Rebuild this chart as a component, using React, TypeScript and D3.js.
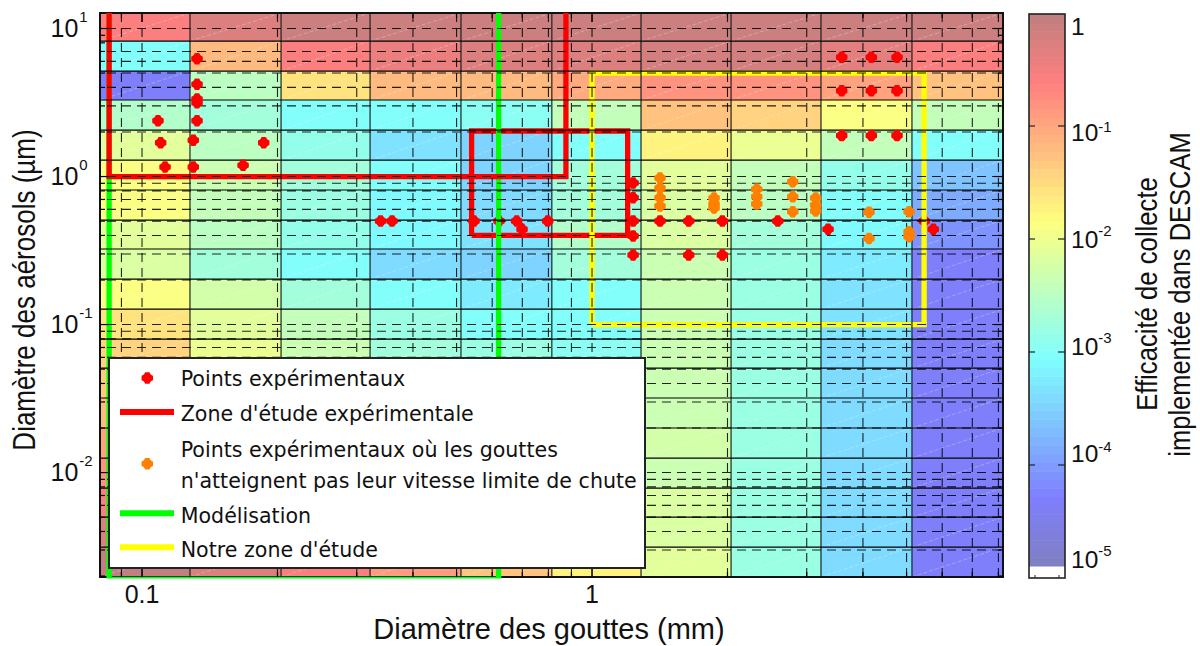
import React from "react";
import * as d3 from "d3";

const diamEdges = [0.0807, 0.1278, 0.2037, 0.3212, 0.5114, 0.814, 1.285, 2.037, 3.227, 5.14, 8.19];
const aerEdges = [12.73, 8.23, 5.16, 3.29, 2.06, 1.29, 0.811, 0.508, 0.324, 0.203, 0.127, 0.0798, 0.0508, 0.0319, 0.02, 0.01253, 0.00786, 0.005, 0.00314, 0.00197];

// log10(efficiency), rows top to bottom, columns left to right
const heatRows = [
  [-0.55, -0.25, -0.15, -0.1, -0.1, -0.1, -0.1, -0.1, -0.1, -0.1],
  [-3.06, -1.2, -0.6, -0.4, -0.3, -0.25, -0.2, -0.2, -0.35, -0.6],
  [-4.3, -2.5, -1.55, -1.2, -1.2, -1.05, -0.8, -0.8, -1.0, -1.25],
  [-2.55, -2.75, -3.0, -3.0, -2.95, -2.4, -1.25, -1.45, -1.9, -2.4],
  [-2.1, -2.5, -2.9, -3.3, -3.5, -3.05, -1.7, -2.0, -2.45, -3.05],
  [-1.85, -2.35, -2.75, -3.05, -3.5, -2.7, -2.1, -2.45, -2.85, -3.65],
  [-1.85, -2.4, -2.8, -3.1, -3.4, -2.7, -2.15, -2.5, -3.05, -3.9],
  [-2.1, -2.5, -2.85, -3.1, -3.3, -2.6, -2.2, -2.7, -3.1, -4.1],
  [-2.2, -2.7, -3.05, -3.4, -3.45, -2.75, -2.3, -2.8, -3.25, -4.3],
  [-1.85, -2.25, -2.7, -3.05, -3.25, -3.05, -2.35, -2.8, -3.3, -4.35],
  [-1.55, -2.1, -2.45, -2.8, -3.05, -3.05, -2.35, -2.8, -3.3, -4.3],
  [-1.45, -2.0, -2.35, -2.75, -2.8, -2.95, -2.35, -2.8, -3.4, -4.3],
  [-1.35, -1.9, -2.2, -2.5, -2.7, -2.8, -2.35, -2.8, -3.4, -4.3],
  [-1.2, -1.7, -2.0, -2.3, -2.5, -2.6, -2.3, -2.8, -3.4, -4.3],
  [-1.0, -1.5, -1.8, -2.1, -2.3, -2.4, -2.25, -2.8, -3.4, -4.3],
  [-0.8, -1.2, -1.5, -1.8, -2.1, -2.2, -2.35, -2.8, -3.4, -4.3],
  [-0.6, -0.9, -1.2, -1.5, -1.8, -2.0, -2.2, -2.8, -3.4, -4.3],
  [-0.3, -0.6, -0.9, -1.2, -1.5, -1.8, -2.15, -2.8, -3.4, -4.3],
  [-0.05, -0.3, -0.6, -0.9, -1.25, -1.7, -2.1, -2.8, -3.4, -4.3],
];

const gridDiam = [0.09, 0.1, 0.2, 0.3, 0.4, 0.5, 0.6, 0.7, 0.8, 0.9, 1, 2, 3, 4, 5, 6, 7, 8];
const gridAer = [10, 7, 6, 5, 4, 3, 2, 1, 0.9, 0.8, 0.7, 0.6, 0.5, 0.4, 0.3, 0.2, 0.1, 0.09, 0.08, 0.07, 0.06, 0.05, 0.04, 0.03, 0.02, 0.01, 0.009, 0.008, 0.007, 0.006, 0.005, 0.004, 0.003];
const tickAerMinor = [9, 8, 7, 6, 5, 4, 3, 2, 0.9, 0.8, 0.7, 0.6, 0.5, 0.4, 0.3, 0.2, 0.09, 0.08, 0.07, 0.06, 0.05, 0.04, 0.03, 0.02, 0.009, 0.008, 0.007, 0.006, 0.005, 0.004, 0.003, 0.002];
const tickAerMajor = [10, 1, 0.1, 0.01];
const tickDiamMajor = [0.1, 1];
const tickDiamLabels = ["0.1", "1"];
const yExponents = ["1", "0", "-1", "-2"];

const redDiam = [0.1325, 0.1325, 0.1325, 0.1325, 0.1325, 0.1085, 0.11, 0.13, 0.1864, 0.1125, 0.13, 0.1677, 0.339, 0.3594, 0.5468, 0.6214, 0.68, 0.699, 0.797, 1.234, 1.234, 1.234, 1.234, 1.234, 1.416, 1.64, 1.64, 1.948, 1.948, 2.587, 3.346, 5.476, 5.734, 3.588, 4.175, 4.762, 3.588, 4.175, 4.762, 3.588, 4.175, 4.762];
const redAer = [6.25, 4.2, 3.34, 3.15, 2.38, 2.38, 1.69, 1.76, 1.69, 1.16, 1.16, 1.19, 0.5, 0.5, 0.5, 0.5, 0.5, 0.44, 0.5, 0.72, 0.904, 0.5, 0.396, 0.295, 0.5, 0.5, 0.295, 0.5, 0.295, 0.5, 0.44, 0.5, 0.44, 6.39, 6.39, 6.39, 3.8, 3.8, 3.8, 1.89, 1.89, 1.89];
// points that the reference shows beneath the green and yellow zone outlines
const redBelowZones = [0.6214, 5.476];
const orangeDiam = [1.416, 1.416, 1.416, 1.416, 1.867, 1.867, 1.867, 2.323, 2.323, 2.323, 2.793, 2.793, 2.793, 3.141, 3.141, 3.141, 4.126, 4.126, 5.065, 5.065, 5.065];
const orangeAer = [0.977, 0.836, 0.72, 0.632, 0.716, 0.652, 0.613, 0.82, 0.73, 0.652, 0.922, 0.73, 0.578, 0.716, 0.642, 0.585, 0.573, 0.382, 0.578, 0.424, 0.392];

const zoneExpDiam = [0.0845, 0.0845, 0.875, 0.875];
const zoneExpAer = [12.73, 1, 1, 12.73];
const zoneExp2Diam = [0.54, 0.54, 1.2, 1.2, 0.54];
const zoneExp2Aer = [0.4, 2.03, 2.03, 0.4, 0.4];
const modelDiam = [0.0845, 0.0845, 0.62, 0.62];
const modelAer = [12.73, 0.0019, 0.0019, 12.73];
const ourDiam = [1, 1, 5.47, 5.47, 1];
const ourAer = [0.1, 5, 5, 0.1, 0.1];

const cbarLog = [0, -1, -2, -3, -4, -5];
const cbarLabels = ["1", "10", "10", "10", "10", "10"];
const cbarExp = ["", "-1", "-2", "-3", "-4", "-5"];

const legendLabels = ["Points expérimentaux", "Zone d'étude expérimentale", "Points expérimentaux où les gouttes", "n'atteignent pas leur vitesse limite de chute", "Modélisation", "Notre zone d'étude"];

const x = d3.scaleLog().domain([0.08065, 8.19]).range([100, 1003]);
const y = d3.scaleLog().domain([0.00197, 12.73]).range([577, 13]);
const jet = d3.scaleLinear<string>().domain([0, 0.125, 0.375, 0.625, 0.875, 1])
  .range(["#7f7fbf", "#7f7fff", "#7fffff", "#ffff7f", "#ff7f7f", "#bf7f7f"]).clamp(true);
const cb = d3.scaleLinear().domain([-5, 0]).range([578, 13]);
const CB_BOTTOM = 566;
const quant = (t: number) => jet((Math.min(63, Math.max(0, Math.floor(t * 64))) + 0.5) / 64);
const logColor = (v: number) => quant((CB_BOTTOM - cb(v)) / (CB_BOTTOM - 14));
const pathOf = (xs: number[], ys: number[]) =>
  d3.line<number>().x(d => x(xs[d])).y(d => y(ys[d]))(xs.map((_, i) => i)) as string;
const marker = d3.symbol().type(d3.symbolCross).size(45)() as string;

const SANS = "'Liberation Sans', Arial, sans-serif";
const DEJA = "'DejaVu Sans', Verdana, sans-serif";

function Mark({ cx, cy, color }: { cx: number; cy: number; color: string }) {
  return (
    <g transform={`translate(${cx},${cy})`} fill={color}>
      <circle r={5} />
      <path d={marker} stroke={color} strokeWidth={2.5} strokeLinejoin="round" />
    </g>
  );
}

export default function App() {
  const cbarSteps = d3.range(64);
  const stepH = (CB_BOTTOM - 14) / 64;
  const legendBase = [385.7, 420.7, 456.7, 487.5, 522.7, 557];
  const cbarBase = [35, 141, 248, 355, 462, 568];
  const cbarDy = [0, -9.5, -12, -12, -10, -12];
  return (
    <svg width={1200} height={646} style={{ position: "absolute", left: 0, top: 0, background: "#fff" }}>
      <defs>
        <clipPath id="axclip"><rect x={100} y={13} width={903} height={565.5} /></clipPath>
      </defs>
      {heatRows.map((row, r) => row.map((v, c) => {
        const x0 = x(diamEdges[c]), x1 = x(diamEdges[c + 1]), y0 = y(aerEdges[r]), y1 = y(aerEdges[r + 1]);
        return (
          <g key={`${r}-${c}`}>
            <rect x={x0} y={y0} width={x1 - x0} height={y1 - y0} fill={logColor(v)} />
            <line x1={x0} y1={y1} x2={x1} y2={y0} stroke="#fff" strokeOpacity={0.28} strokeWidth={1} strokeDasharray="4 2" />
          </g>
        );
      }))}
      <rect x={100} y={13} width={903} height={564} fill="none" stroke="#111" strokeWidth={2} />
      {redDiam.map((d, i) => redBelowZones.includes(d) ? <Mark key={i} cx={x(d)} cy={y(redAer[i])} color="#ff0000" /> : null)}
      <g clipPath="url(#axclip)" fill="none" strokeWidth={5.3}>
        <path d={pathOf(zoneExp2Diam, zoneExp2Aer)} stroke="#ff0000" />
        <path d={pathOf(modelDiam, modelAer)} stroke="#00ff00" />
        <path d={pathOf(zoneExpDiam, zoneExpAer)} stroke="#ff0000" />
        <path d={pathOf(ourDiam, ourAer)} stroke="#ffff00" />
      </g>
      {diamEdges.slice(1, 10).map((d, i) => <line key={i} x1={x(d)} x2={x(d)} y1={13} y2={577} stroke="#101818" strokeOpacity={0.8} strokeWidth={1.4} />)}
      {aerEdges.slice(1, 19).map((a, i) => <line key={i} x1={100} x2={1003} y1={y(a)} y2={y(a)} stroke="#000" strokeWidth={1.2} />)}
      {gridDiam.map((d, i) => <line key={i} x1={x(d)} x2={x(d)} y1={13} y2={577} stroke="#000" strokeOpacity={0.85} strokeWidth={1.1} strokeDasharray="9 6" />)}
      {gridAer.map((a, i) => <line key={i} x1={100} x2={1003} y1={y(a)} y2={y(a)} stroke="#000" strokeOpacity={0.85} strokeWidth={1.1} strokeDasharray="9 6" strokeDashoffset={-7} />)}
      {redDiam.map((d, i) => redBelowZones.includes(d) ? null : <Mark key={i} cx={x(d)} cy={y(redAer[i])} color="#ff0000" />)}
      {orangeDiam.map((d, i) => <Mark key={i} cx={x(d)} cy={y(orangeAer[i])} color="#ff8000" />)}
      {gridDiam.map((d, i) => {
        const len = tickDiamMajor.includes(d) ? 9 : 5;
        return <g key={i} stroke="#000" strokeWidth={1.2}>
          <line x1={x(d)} x2={x(d)} y1={577} y2={577 - len} />
          <line x1={x(d)} x2={x(d)} y1={13} y2={13 + len} />
        </g>;
      })}
      {tickAerMinor.map((a, i) => <g key={i} stroke="#000" strokeWidth={1.2}>
        <line x1={100} x2={105} y1={y(a)} y2={y(a)} />
        <line x1={1003} x2={998} y1={y(a)} y2={y(a)} />
      </g>)}
      {tickAerMajor.map((a, i) => <g key={i} stroke="#000" strokeWidth={1.2}>
        <line x1={100} x2={109} y1={y(a)} y2={y(a)} />
        <line x1={1003} x2={994} y1={y(a)} y2={y(a)} />
      </g>)}
      {tickDiamMajor.map((d, i) => <text key={i} x={x(d)} y={603} textAnchor="middle" fontFamily={SANS} fontSize={25} fill="#111">{tickDiamLabels[i]}</text>)}
      {tickAerMajor.map((a, i) => (
        <text key={i} x={50.5} y={y(a) + 8.5} fontFamily={SANS} fontSize={25} fill="#111">
          10<tspan dy={-15} dx={1} fontSize={15}>{yExponents[i]}</tspan>
        </text>
      ))}
      <text x={549} y={639} textAnchor="middle" fontFamily={SANS} fontSize={29} fill="#111">Diamètre des gouttes (mm)</text>
      <text transform="translate(35,290) rotate(-90) scale(1,1.22)" textAnchor="middle" fontFamily={SANS} fontSize={26} fill="#111">Diamètre des aérosols (µm)</text>
      <rect x={109} y={358} width={536} height={210} fill="#fff" stroke="#222" strokeWidth={2} />
      <Mark cx={147.3} cy={378} color="#ff0000" />
      <line x1={120} x2={174} y1={412} y2={412} stroke="#ff0000" strokeWidth={6} />
      <Mark cx={147.3} cy={463.7} color="#ff8000" />
      <line x1={120} x2={174} y1={513.3} y2={513.3} stroke="#00ff00" strokeWidth={6} />
      <line x1={120} x2={174} y1={547.3} y2={547.3} stroke="#ffff00" strokeWidth={6} />
      {legendLabels.map((t, i) => <text key={i} x={180.7} y={legendBase[i]} fontFamily={DEJA} fontSize={20.6} fill="#111">{t}</text>)}
      {cbarSteps.map(i => <rect key={i} x={1029} width={36} y={CB_BOTTOM - (i + 1) * stepH} height={stepH + 0.5} fill={quant((i + 0.5) / 64)} />)}
      {cbarLog.slice(1, 5).map(v => <g key={v} stroke="#222" strokeWidth={1.2}>
        <line x1={1029} x2={1035} y1={cb(v)} y2={cb(v)} />
        <line x1={1065} x2={1058} y1={cb(v)} y2={cb(v)} />
      </g>)}
      <line x1={1035} x2={1035} y1={578} y2={575} stroke="#222" />
      <line x1={1059} x2={1059} y1={578} y2={575} stroke="#222" />
      <rect x={1029} y={14} width={36} height={564} fill="none" stroke="#222" strokeWidth={1.6} />
      {cbarLog.map((v, i) => (
        <text key={v} x={1071} y={cbarBase[i]} fontFamily={SANS} fontSize={24.5} fill="#111">
          {cbarLabels[i]}<tspan dy={cbarDy[i]} fontSize={15}>{cbarExp[i]}</tspan>
        </text>
      ))}
      <text transform="translate(1157,294) rotate(-90) scale(1,1.18)" textAnchor="middle" fontFamily={SANS} fontSize={25.7} fill="#111">Efficacité de collecte</text>
      <text transform="translate(1190,294.5) rotate(-90) scale(1,1.18)" textAnchor="middle" fontFamily={SANS} fontSize={25.5} fill="#111">implementée dans DESCAM</text>
    </svg>
  );
}
